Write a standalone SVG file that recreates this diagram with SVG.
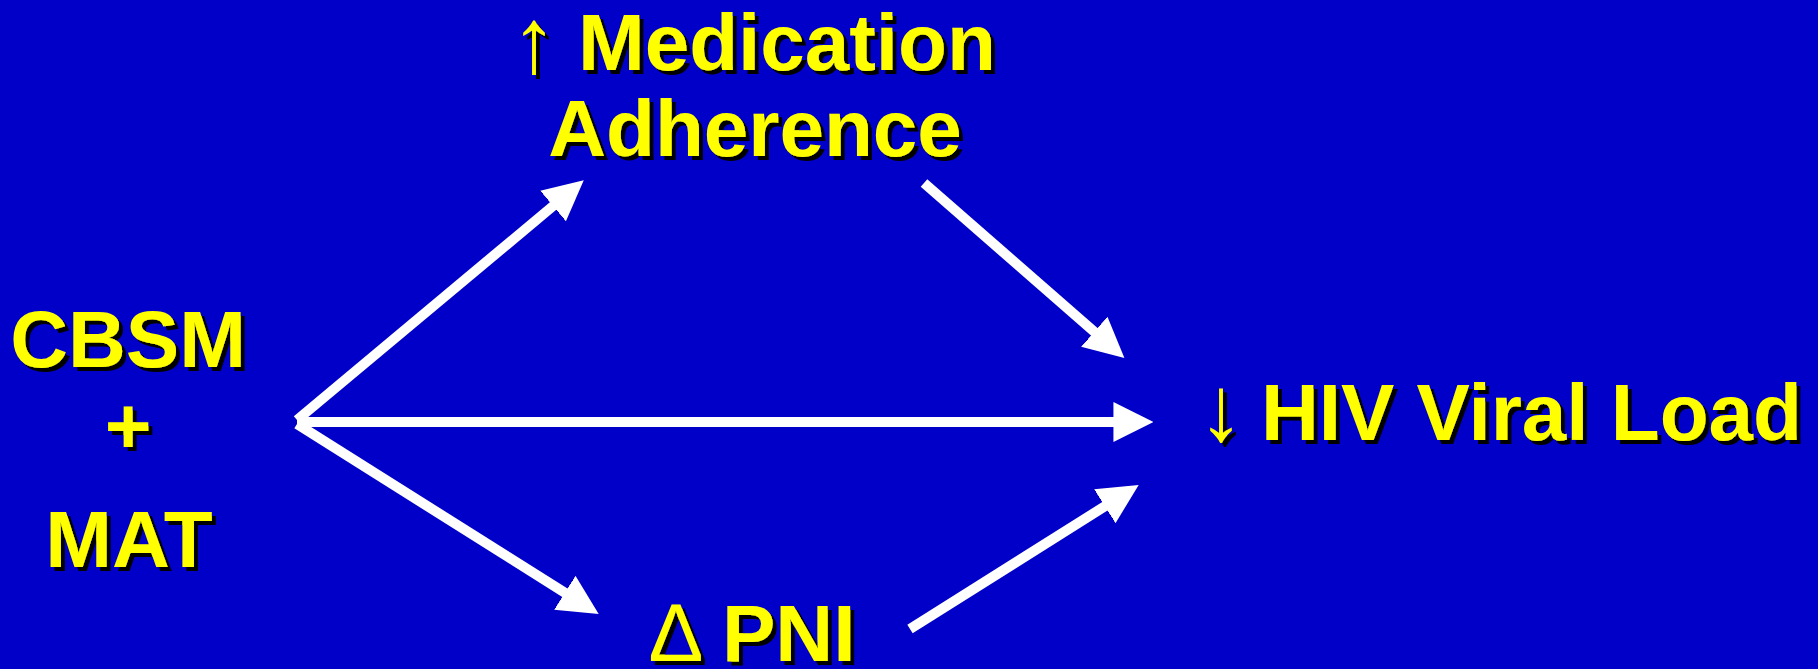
<svg xmlns="http://www.w3.org/2000/svg" width="1818" height="669" viewBox="0 0 1818 669">
<defs>
<style>
.t{font-family:"Liberation Sans",Arial,sans-serif;font-weight:bold;font-size:80px;fill:#FFFF00;filter:url(#sh)}
.s{font-family:"Liberation Sans",Arial,sans-serif;font-weight:bold;font-size:92px;fill:#FFFF00;filter:url(#sh)}
.d{font-family:"Liberation Sans",Arial,sans-serif;font-weight:normal;font-size:82px;fill:#FFFF00;filter:url(#sh)}
.c{stroke:#FFFFFF;stroke-width:10;fill:none;stroke-linecap:butt;marker-end:url(#ah)}
</style>
<filter id="sh" x="-10%" y="-10%" width="120%" height="130%">
<feOffset in="SourceAlpha" dx="4" dy="4" result="o"/>
<feFlood flood-color="#000000"/>
<feComposite in2="o" operator="in" result="s"/>
<feMerge><feMergeNode in="s"/><feMergeNode in="SourceGraphic"/></feMerge>
</filter>
<marker id="ah" markerUnits="userSpaceOnUse" markerWidth="40" markerHeight="40" viewBox="0 0 36 36" refX="14" refY="18" orient="auto">
<path d="M0,0 L36,18 L0,36 Z" fill="#FFFFFF"/>
</marker>
</defs>
<rect width="1818" height="669" fill="#0000C8"/>
<g id="connectors">
<line class="c" x1="297" y1="420" x2="565" y2="196"/>
<line class="c" x1="297" y1="422" x2="1129" y2="422"/>
<line class="c" x1="297" y1="424" x2="578" y2="601"/>
<line class="c" x1="924" y1="183" x2="1106" y2="342"/>
<line class="c" x1="910" y1="629" x2="1118" y2="498"/>
</g>
<g id="node-cbsm">
<text class="t" x="128" y="367" text-anchor="middle">CBSM</text>
<text class="t" x="128" y="453" text-anchor="middle">+</text>
<text class="t" x="129" y="567" text-anchor="middle">MAT</text>
</g>
<g id="node-adherence">
<text class="s" x="534" y="72" text-anchor="middle">↑</text>
<text class="t" x="578" y="70">Medication</text>
<text class="t" x="755" y="156" text-anchor="middle">Adherence</text>
</g>
<g id="node-hiv">
<text class="s" x="1221" y="440" text-anchor="middle">↓</text>
<text class="t" x="1261" y="440">HIV Viral Load</text>
</g>
<g id="node-pni">
<text class="d" x="676" y="661" text-anchor="middle">Δ</text>
<text class="t" x="722" y="661">PNI</text>
</g>
</svg>
